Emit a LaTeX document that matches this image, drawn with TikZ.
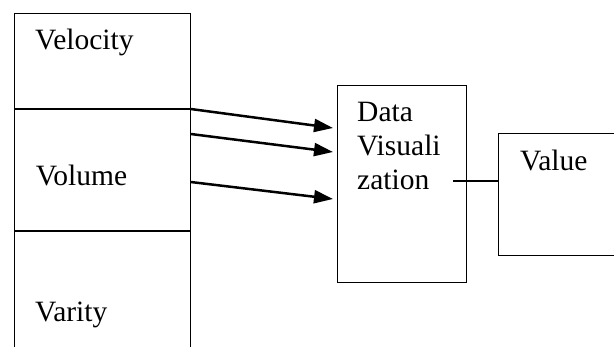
\documentclass[tikz,border=0pt]{standalone}
\usepackage{fontspec}
\setmainfont{Liberation Serif}
\usetikzlibrary{arrows.meta}
\tikzset{
	box/.style={draw,line width=1pt,inner sep=0pt,anchor=north west},
	lbl/.style={inner sep=0pt,anchor=base west,align=left,font=\fontsize{29.5}{34}\selectfont},
	flow/.style={line width=2.5pt,-{Triangle[length=19pt,width=13pt]}}
}
\begin{document}
\begin{tikzpicture}[x=1pt,y=-1pt]
	\clip (0,0) rectangle (614,347); %page
	
	%left column
	\node[box,minimum width=176pt,minimum height=95.3pt] (vel) at (13.7,12.7) {};
	\node[box,minimum width=176pt,minimum height=121pt] (vol) at (vel.south west) {};
	\node[box,minimum width=176pt,minimum height=131pt] (var) at (vol.south west) {};
	
	%right boxes
	\node[box,minimum width=129pt,minimum height=197pt] (dv) at (337,85) {};
	\node[box,minimum width=142pt,minimum height=122pt] (val) at (498,133) {};
	
	%labels
	\node[lbl] (velT) at ([xshift=21.3pt,yshift=-37.3pt]vel.north west) {Velocity};
	\node[lbl] (volT) at ([xshift=22pt,yshift=-77pt]vol.north west) {Volume};
	\node[lbl] (varT) at ([xshift=21.3pt,yshift=-91pt]var.north west) {Varity};
	\node[lbl] (dvT) at ([xshift=20pt,yshift=-105pt]dv.north west) {Data\\Visuali\\zation}; %base is last line
	\node[lbl] (valT) at ([xshift=22pt,yshift=-38pt]val.north west) {Value};
	
	%arrows
	\draw[flow] (vol.north east) -- ([xshift=-4pt,yshift=-43pt]dv.north west);
	\draw[flow] ([yshift=-25pt]vol.north east) -- ([xshift=-4pt,yshift=-67pt]dv.north west);
	\draw[flow] ([yshift=-73pt]vol.north east) -- ([xshift=-4pt,yshift=-114pt]dv.north west);
	
	%line to value
	\coordinate (dvout) at (453,181);
	\draw[line width=2pt] (dvout) -- ([yshift=-48pt]val.north west);
\end{tikzpicture}
\end{document}
